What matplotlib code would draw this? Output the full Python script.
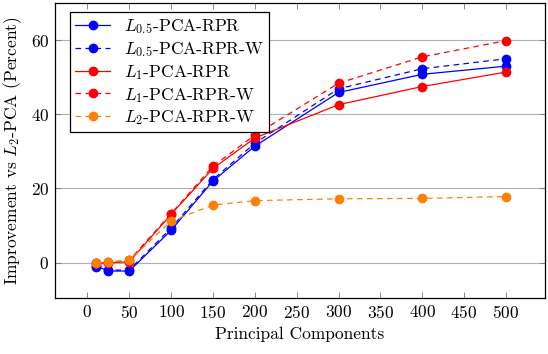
import numpy as np
import matplotlib
matplotlib.use("Agg")
import matplotlib.pyplot as plt

plt.rcParams["font.family"] = "cmr10"
plt.rcParams["mathtext.fontset"] = "cm"
plt.rcParams["axes.formatter.use_mathtext"] = True

components = [10, 25, 50, 100, 150, 200, 300, 400, 500]

l05_rpr = [-0.9, -2.3, -2.3, 8.7, 22.0, 31.4, 45.9, 50.8, 53.0]
l05_rpr_w = [-1.2, -2.1, -2.0, 9.3, 22.4, 32.2, 46.9, 52.3, 55.0]
l1_rpr = [-0.2, -0.1, 0.2, 13.0, 25.4, 33.6, 42.6, 47.5, 51.4]
l1_rpr_w = [0.0, 0.1, 0.6, 13.2, 26.0, 34.4, 48.4, 55.5, 59.9]
l2_rpr_w = [0.0, 0.1, 0.6, 11.2, 15.5, 16.7, 17.2, 17.3, 17.8]

labels = [r"$L_{0.5}$-PCA-RPR", r"$L_{0.5}$-PCA-RPR-W", r"$L_1$-PCA-RPR",
          r"$L_1$-PCA-RPR-W", r"$L_2$-PCA-RPR-W"]

fig = plt.figure(figsize=(5.48, 3.54), dpi=100)
ax = fig.add_axes([0.1, 0.158, 0.895, 0.833])

ax.grid(axis="y", color="#b0b0b0", linewidth=0.8)
ax.set_axisbelow(True)

dash = (0, (4.5, 3.5))
ms = 6
lw = 0.9
ax.plot(components, l05_rpr, color="blue", linestyle="-", marker="o", ms=ms, lw=lw, label=labels[0])
ax.plot(components, l05_rpr_w, color="blue", linestyle=dash, marker="o", ms=ms, lw=lw, label=labels[1])
ax.plot(components, l1_rpr, color="red", linestyle="-", marker="o", ms=ms, lw=lw, label=labels[2])
ax.plot(components, l1_rpr_w, color="red", linestyle=dash, marker="o", ms=ms, lw=lw, label=labels[3])
ax.plot(components, l2_rpr_w, color=(1, 0.5, 0), linestyle=dash, marker="o", ms=ms, lw=lw, label=labels[4])

ax.set_xlim(-39, 547)
ax.set_ylim(-9.6, 70)
ax.set_xticks(np.arange(0, 501, 50))
ax.set_yticks([0, 20, 40, 60])
ax.tick_params(direction="in", top=True, right=True, labelsize=12.5, length=4, width=0.6,
               color="#777777", pad=4)
for s in ax.spines.values():
    s.set_linewidth(0.9)

ax.set_xlabel("Principal Components", fontsize=12.5, labelpad=4)
ax.set_ylabel(r"Improvement vs $L_2$-PCA (Percent)", fontsize=12.5, labelpad=5)

leg = ax.legend(loc="upper left", bbox_to_anchor=(0.031, 0.97), borderaxespad=0,
                fontsize=12.5, fancybox=False, edgecolor="black", framealpha=1,
                handlelength=2.0, labelspacing=0.22, borderpad=0.3, handletextpad=0.8)
leg.get_frame().set_linewidth(0.9)

fig.savefig("out.png", dpi=100)
